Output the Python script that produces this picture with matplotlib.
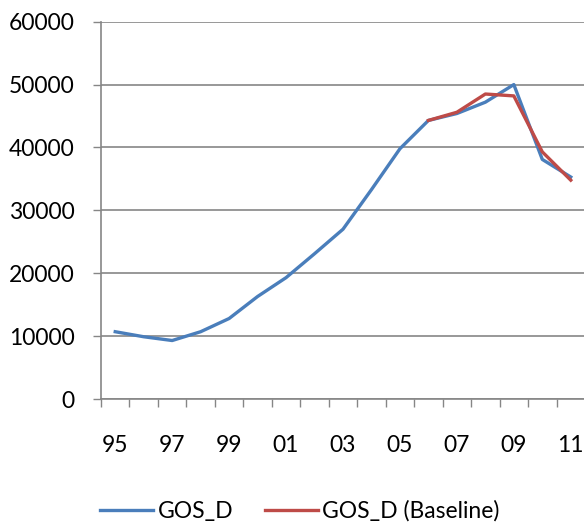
import matplotlib
matplotlib.use("Agg")
import matplotlib.pyplot as plt
import numpy as np

years = ["95", "96", "97", "98", "99", "00", "01", "02", "03",
         "04", "05", "06", "07", "08", "09", "10", "11"]
gos_d = [10700, 9900, 9300, 10700, 12800, 16300, 19300, 23100, 27000,
         33300, 39800, 44300, 45400, 47200, 50000, 38100, 35300]
# baseline only runs from 2006 onwards
baseline_years = ["06", "07", "08", "09", "10", "11"]
gos_d_baseline = [44300, 45600, 48500, 48200, 39300, 34800]

BLUE = "#4A7EBB"
RED = "#BE4B48"
GRID = "#868686"
FS = 16.5

plt.rcParams["font.family"] = ["Lato", "DejaVu Sans"]

fig = plt.figure(figsize=(5.84, 5.24), dpi=100)
ax = fig.add_axes([101 / 584, 1 - 399 / 524, 484 / 584, (399 - 21.7) / 524])

x = np.arange(len(years))
xb = [years.index(y) for y in baseline_years]

ax.plot(x, gos_d, color=BLUE, lw=2.4, label="GOS_D", solid_joinstyle="round")
ax.plot(xb, gos_d_baseline, color=RED, lw=2.4, label="GOS_D (Baseline)",
        solid_joinstyle="round")

ax.set_xlim(-0.5, len(years) - 0.5)
ax.set_ylim(0, 60000)
ax.set_yticks(range(0, 60001, 10000))
ax.yaxis.grid(True, color=GRID, lw=1.2)
ax.set_axisbelow(True)

# category boundaries get the tick marks, every other year gets a label
ax.set_xticks(np.arange(-0.5, len(years)), labels=[])
ax.set_xticks(x[::2], labels=years[::2], minor=True)
ax.tick_params(axis="x", which="major", length=6, width=1, color=GRID, direction="out")
ax.tick_params(axis="x", which="minor", length=0, pad=26, labelsize=FS)
ax.tick_params(axis="y", length=6, width=1, color=GRID, pad=13, labelsize=FS)

for side in ("top", "right"):
    ax.spines[side].set_visible(False)
for side in ("left", "bottom"):
    ax.spines[side].set_color(GRID)
    ax.spines[side].set_linewidth(1.2)

fig.legend(loc="center", bbox_to_anchor=(300 / 584, 1 - 511 / 524), ncol=2,
           frameon=False, fontsize=FS, handlelength=2.3, handletextpad=0.2,
           columnspacing=1.4)

fig.savefig("out.png", dpi=100)
